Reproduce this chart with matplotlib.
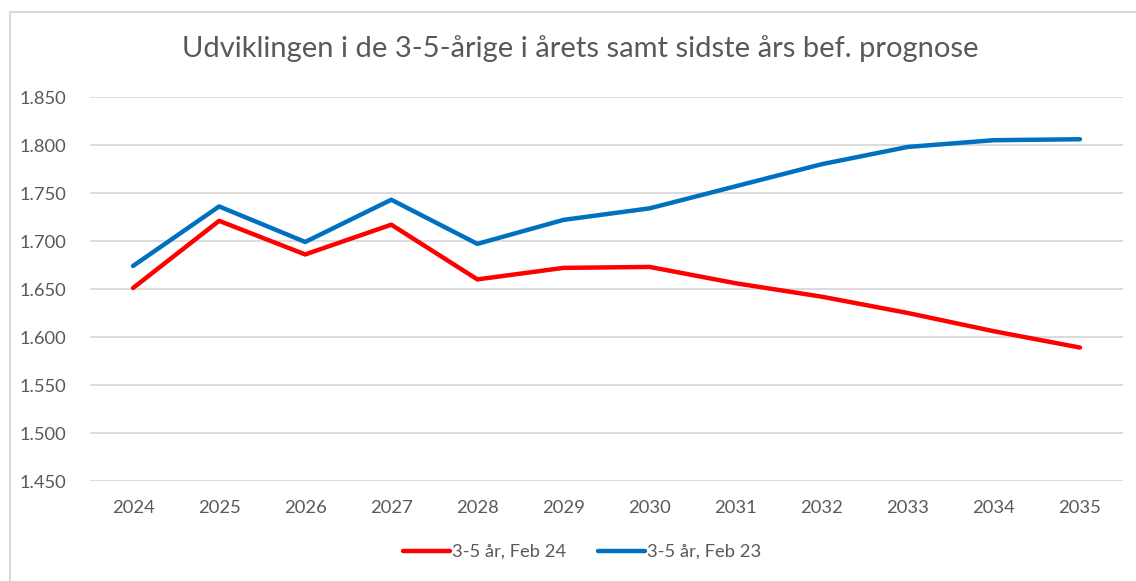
import matplotlib.pyplot as plt
from matplotlib.lines import Line2D
from matplotlib.ticker import FuncFormatter

plt.rcParams['font.family'] = ['Lato', 'DejaVu Sans']

years = [2024, 2025, 2026, 2027, 2028, 2029, 2030, 2031, 2032, 2033, 2034, 2035]
feb24 = [1651, 1721, 1686, 1717, 1660, 1672, 1673, 1656, 1642, 1625, 1606, 1589]
feb23 = [1674, 1736, 1699, 1743, 1697, 1722, 1734, 1757, 1780, 1798, 1805, 1806]
yticks = [1450, 1500, 1550, 1600, 1650, 1700, 1750, 1800, 1850]

text_col = "#595959"
grid_col = "#D9D9D9"

fig = plt.figure(figsize=(11.36, 5.81), dpi=100)
ax = fig.add_axes([90 / 1136, 1 - 481 / 581, (1123 - 90) / 1136, (481 - 97) / 581])

x = list(range(len(years)))
ax.plot(x, feb24, color="#FF0000", lw=3.2, solid_capstyle="round", solid_joinstyle="round",
        label="3-5 år, Feb 24", zorder=3)
ax.plot(x, feb23, color="#0070C0", lw=3.2, solid_capstyle="round", solid_joinstyle="round",
        label="3-5 år, Feb 23", zorder=3)

ax.set_xlim(-0.5, len(years) - 0.5)
ax.set_ylim(1450, 1850)
ax.set_yticks(yticks)
ax.yaxis.set_major_formatter(FuncFormatter(lambda v, p: f"{v/1000:.3f}"))
ax.set_xticks(x)
ax.set_xticklabels([str(y) for y in years])
ax.grid(axis="y", color=grid_col, lw=1.3)
ax.set_axisbelow(True)
for s in ax.spines.values():
    s.set_visible(False)
ax.tick_params(length=0, colors=text_col, labelsize=13.2)
ax.tick_params(axis="y", pad=17)
ax.tick_params(axis="x", pad=14)

fig.text(580 / 1136, 1 - 49 / 581, "Udviklingen i de 3-5-årige i årets samt sidste års bef. prognose",
         ha="center", va="center", fontsize=21, color=text_col)

leg = fig.legend(loc="center", bbox_to_anchor=(582 / 1136, 1 - 552 / 581), ncol=2, frameon=False,
                 fontsize=13.2, handlelength=2.6, handletextpad=0.1, columnspacing=1.7)
for t in leg.get_texts():
    t.set_color(text_col)

# chart frame (left and top edges visible)
fig.add_artist(Line2D([10 / 1136, 10 / 1136], [0, 1 - 12 / 581], transform=fig.transFigure,
                      color=grid_col, lw=1.5))
fig.add_artist(Line2D([10 / 1136, 1], [1 - 12 / 581, 1 - 12 / 581], transform=fig.transFigure,
                      color=grid_col, lw=1.5))

fig.savefig("out.png", dpi=100)
